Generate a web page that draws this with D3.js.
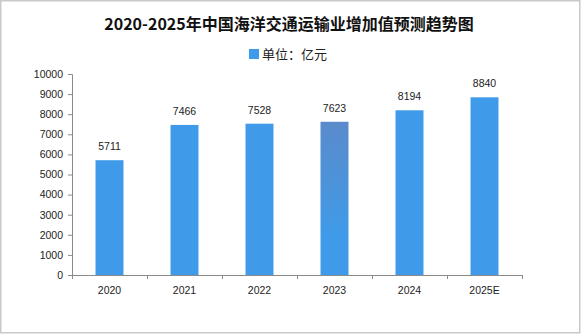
<!DOCTYPE html>
<html>
<head>
<meta charset="utf-8">
<script src="https://cdn.jsdelivr.net/npm/d3@7"></script>
<style>
  html, body { margin: 0; padding: 0; background: #fff; }
  svg { display: block; }
</style>
</head>
<body>
<svg id="chart" width="587" height="334"></svg>
<script>
// 2020-2025 China maritime transport value added (亿元)
const years = ["2020", "2021", "2022", "2023", "2024", "2025E"];
const values = [5711, 7466, 7528, 7623, 8194, 8840];
const yTicks = [0, 1000, 2000, 3000, 4000, 5000, 6000, 7000, 8000, 9000, 10000];
const titleText = "2020-2025年中国海洋交通运输业增加值预测趋势图";
const legendText = "单位：亿元";

const svg = d3.select("#chart");
const plot = { left: 72, right: 522, top: 74, bottom: 275 };
const barColor = "#3f9be9";
const labelFont = "'Liberation Sans', Arial, sans-serif";
const cjkFont = "'Noto Sans CJK SC', 'Noto Sans', sans-serif";

// frame
svg.append("rect")
  .attr("x", 0.75).attr("y", 0.75)
  .attr("width", 579).attr("height", 332)
  .attr("fill", "#fff")
  .attr("stroke", "#c9c9c9").attr("stroke-width", 1.5);

// title
svg.append("text")
  .attr("x", 289).attr("y", 30)
  .attr("text-anchor", "middle")
  .attr("font-family", cjkFont)
  .attr("font-weight", "bold")
  .attr("font-size", 16)
  .attr("fill", "#111")
  .text(titleText);

// legend
const legend = svg.append("g");
legend.append("rect")
  .attr("x", 249).attr("y", 49)
  .attr("width", 10).attr("height", 10)
  .attr("fill", barColor);
legend.append("text")
  .attr("x", 262).attr("y", 59)
  .attr("font-family", cjkFont)
  .attr("font-size", 13)
  .attr("fill", "#222")
  .text(legendText);

// scales
const x = d3.scaleBand()
  .domain(years)
  .range([plot.left, plot.right])
  .paddingInner(0.627)
  .paddingOuter(0.3135);

const y = d3.scaleLinear()
  .domain([0, 10000])
  .range([plot.bottom, plot.top]);

// gradient used on the 2023 bar
const defs = svg.append("defs");
const grad = defs.append("linearGradient")
  .attr("id", "shade2023")
  .attr("x1", 0).attr("y1", 0).attr("x2", 0).attr("y2", 1);
grad.append("stop").attr("offset", "0%").attr("stop-color", "#5a8bcc");
grad.append("stop").attr("offset", "45%").attr("stop-color", "#4a94dc");
grad.append("stop").attr("offset", "75%").attr("stop-color", barColor);
grad.append("stop").attr("offset", "100%").attr("stop-color", barColor);

// bars
svg.append("g")
  .selectAll("rect")
  .data(years)
  .join("rect")
  .attr("x", d => x(d))
  .attr("width", x.bandwidth())
  .attr("y", (d, i) => y(values[i]))
  .attr("height", (d, i) => y(0) - y(values[i]))
  .attr("fill", d => d === "2023" ? "url(#shade2023)" : barColor);

// value labels
svg.append("g")
  .selectAll("text")
  .data(years)
  .join("text")
  .attr("x", d => x(d) + x.bandwidth() / 2)
  .attr("y", (d, i) => y(values[i]) - 10)
  .attr("text-anchor", "middle")
  .attr("font-family", labelFont)
  .attr("font-size", 10.5)
  .attr("fill", "#222")
  .text((d, i) => values[i]);

// y axis
const yAxis = svg.append("g")
  .attr("transform", `translate(${plot.left},0)`)
  .call(d3.axisLeft(y).tickValues(yTicks).tickSize(4).tickPadding(5).tickFormat(d3.format("d")));
yAxis.select(".domain").attr("stroke", "#8a8a8a");
yAxis.selectAll(".tick line").attr("stroke", "#8a8a8a");
yAxis.selectAll("text")
  .attr("font-family", labelFont)
  .attr("font-size", 10.5)
  .attr("fill", "#222");

// x axis with ticks on band boundaries
const boundaries = years.map(d => x(d) - x.step() * x.paddingInner() / 2)
  .concat([plot.right]);
const xg = svg.append("g");
xg.append("line")
  .attr("x1", plot.left).attr("x2", plot.right)
  .attr("y1", plot.bottom + 0.5).attr("y2", plot.bottom + 0.5)
  .attr("stroke", "#8a8a8a");
xg.selectAll("line.tk")
  .data(boundaries)
  .join("line")
  .attr("class", "tk")
  .attr("x1", d => Math.round(d) + 0.5).attr("x2", d => Math.round(d) + 0.5)
  .attr("y1", plot.bottom).attr("y2", plot.bottom + 4)
  .attr("stroke", "#8a8a8a");
xg.selectAll("text")
  .data(years)
  .join("text")
  .attr("x", d => x(d) + x.bandwidth() / 2)
  .attr("y", 294)
  .attr("text-anchor", "middle")
  .attr("font-family", labelFont)
  .attr("font-size", 10.5)
  .attr("fill", "#222")
  .text(d => d);
</script>
</body>
</html>
